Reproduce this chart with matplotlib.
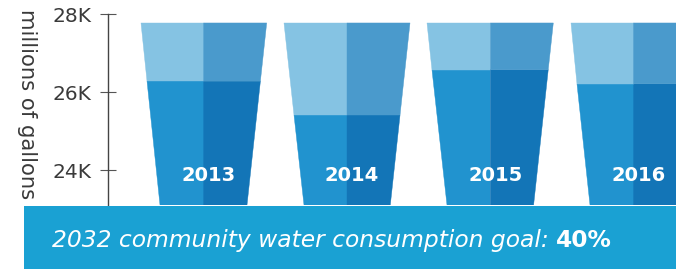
import matplotlib.pyplot as plt
from matplotlib.patches import Polygon

# data (thousands of millions of gallons)
years = ['2013', '2014', '2015', '2016']
water_level = [26.28, 25.41, 26.57, 26.21]
glass_top = 27.77
yticks = [24, 26, 28]
ytick_labels = ['24K', '26K', '28K']

light_left = '#85c3e3'
light_right = '#4a9acc'
water_left = '#2193cf'
water_right = '#1375b7'
band_color = '#1aa1d3'
text_gray = '#3a3a3a'

W, H = 676, 269
fig = plt.figure(figsize=(W / 100, H / 100), dpi=100)

# axes: left spine at x=108px, 28K at y=14px, bottom at y=205px
ax = fig.add_axes([108 / W, 64 / H, 1 - 108 / W, 191 / H])
ymin, ymax = 28 - 191 / 39, 28
ax.set_ylim(ymin, ymax)
ax.set_xlim((108 - 203.7) / 143.3, (676 - 203.7) / 143.3)

half_top = 63 / 143.3
half_bot = 43.3 / 143.3


def half_w(y):
    return half_bot + (half_top - half_bot) * (y - ymin) / (glass_top - ymin)


for i, (yr, lvl) in enumerate(zip(years, water_level)):
    wl = half_w(lvl)
    parts = [
        ([(i - half_bot, ymin), (i, ymin), (i, lvl), (i - wl, lvl)], water_left),
        ([(i, ymin), (i + half_bot, ymin), (i + wl, lvl), (i, lvl)], water_right),
        ([(i - wl, lvl), (i, lvl), (i, glass_top), (i - half_top, glass_top)], light_left),
        ([(i, lvl), (i + wl, lvl), (i + half_top, glass_top), (i, glass_top)], light_right),
    ]
    for pts, c in parts:
        ax.add_patch(Polygon(pts, closed=True, facecolor=c, edgecolor=c, lw=0.3))
    ax.text(i + 0.035, 23.85, yr, color='white', fontsize=14, fontweight='bold',
            ha='center', va='center')

ax.set_yticks(yticks)
ax.set_yticklabels(ytick_labels, fontsize=14.5, color=text_gray)
ax.set_xticks([])
for s in ['top', 'right', 'bottom']:
    ax.spines[s].set_visible(False)
ax.spines['left'].set_color('#444444')
ax.spines['left'].set_linewidth(1)
ax.tick_params(axis='y', direction='inout', length=12, width=0.8, color='#555555', pad=6)
ax.patch.set_alpha(0)

fig.text(27 / W, 1 - 104 / H, 'millions of gallons', rotation=270, fontsize=15.2,
         color=text_gray, ha='center', va='center')

# bottom band as its own axes, drawn on top
band = fig.add_axes([24 / W, 0, 1 - 24 / W, 63 / H])
band.set_facecolor(band_color)
band.set_xticks([])
band.set_yticks([])
for s in band.spines.values():
    s.set_visible(False)
t1 = band.text(28 / 652, 0.46, '2032 community water consumption goal: ', color='white',
               fontsize=16.8, style='italic', transform=band.transAxes,
               ha='left', va='center')
band.annotate('40%', xy=(1, 0.5), xycoords=t1, ha='left', va='center', color='white',
              fontsize=16.8, fontweight='bold', annotation_clip=False)

fig.savefig('out.png', dpi=100)
